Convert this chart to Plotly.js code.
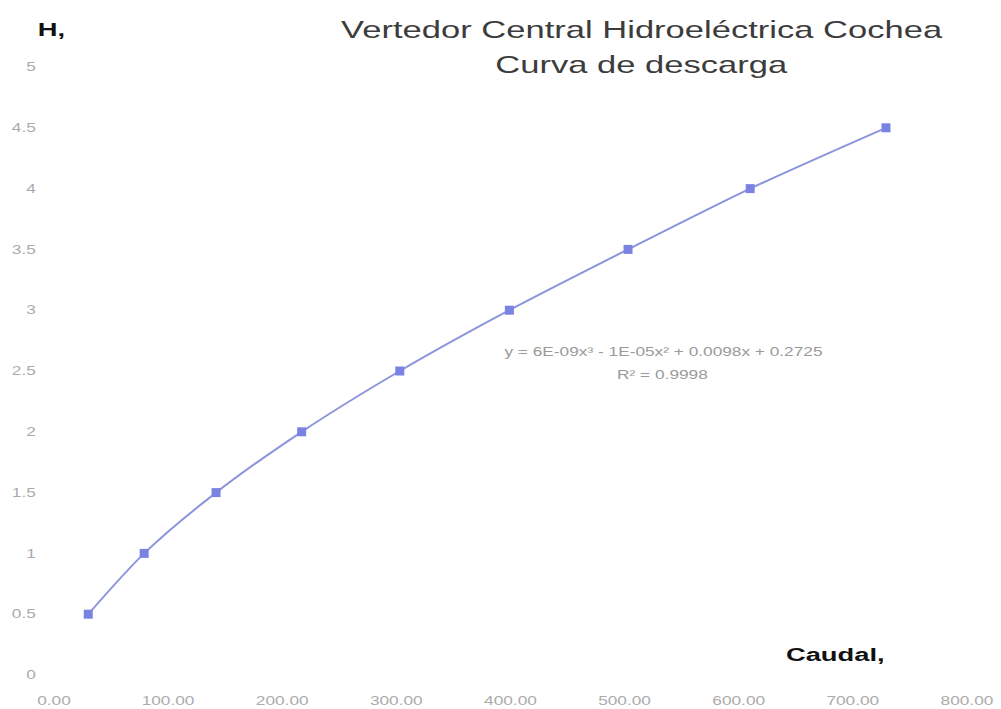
<!DOCTYPE html>
<html>
<head>
<meta charset="utf-8">
<script src="https://cdn.plot.ly/plotly-3.0.1.min.js"></script>
<style>html,body{margin:0;padding:0;background:#fff;}#chart{width:1001px;height:709px;}</style>
</head>
<body>
<div id="chart"></div>
<script>
const caudal = [30, 79, 142, 217, 303, 399, 503, 610, 729];
const altura = [0.5, 1.0, 1.5, 2.0, 2.5, 3.0, 3.5, 4.0, 4.5];
const xTickVals = [0, 100, 200, 300, 400, 500, 600, 700, 800];
const xTickText = ["0.00", "100.00", "200.00", "300.00", "400.00", "500.00", "600.00", "700.00", "800.00"];
const yTickVals = [0, 0.5, 1, 1.5, 2, 2.5, 3, 3.5, 4, 4.5, 5];
const yTickText = ["0", "0.5", "1", "1.5", "2", "2.5", "3", "3.5", "4", "4.5", "5"];
const titleLines = ["Vertedor Central Hidroeléctrica Cochea", "Curva de descarga"];
const equationText = "y = 6E-09x³ - 1E-05x² + 0.0098x + 0.2725";
const r2Text = "R² = 0.9998";

const trace = {
  x: caudal, y: altura, type: 'scatter', mode: 'lines+markers',
  line: {color: '#8c95dc', width: 2, shape: 'spline', smoothing: 0.8},
  marker: {color: '#7a82e2', size: 9, symbol: 'square'},
  hoverinfo: 'x+y'
};

const FONT = 'Liberation Sans, Arial, sans-serif';
const tickFont = {family: FONT, size: 12, color: '#ababab'};

const layout = {
  width: 1001, height: 709,
  paper_bgcolor: '#ffffff', plot_bgcolor: '#ffffff',
  margin: {l: 54, r: 34, t: 67, b: 34},
  showlegend: false,
  xaxis: {
    range: [0, 800], tickvals: xTickVals, ticktext: xTickText,
    showgrid: false, zeroline: false, showline: false, ticks: '',
    tickfont: tickFont, ticklabelstandoff: 17
  },
  yaxis: {
    range: [0, 5], tickvals: yTickVals, ticktext: yTickText,
    showgrid: false, zeroline: false, showline: false, ticks: '',
    tickfont: tickFont, ticklabelstandoff: 17
  },
  annotations: [
    {text: titleLines[0], xref: 'paper', yref: 'paper', x: 0.644, y: 1.0609, xanchor: 'center', yanchor: 'middle',
     showarrow: false, font: {family: FONT, size: 24, color: '#3c3c3c'}},
    {text: titleLines[1], xref: 'paper', yref: 'paper', x: 0.644, y: 1.0033, xanchor: 'center', yanchor: 'middle',
     showarrow: false, font: {family: FONT, size: 24, color: '#3c3c3c'}},
    {text: '<b>H,</b>', xref: 'paper', yref: 'paper', x: -0.0153, y: 1.0609, xanchor: 'left', yanchor: 'middle',
     showarrow: false, font: {family: FONT, size: 19, color: '#111'}},
    {text: '<b>Caudal,</b>', xref: 'x', yref: 'y', x: 684.5, y: 0.165, xanchor: 'center', yanchor: 'middle',
     showarrow: false, font: {family: FONT, size: 19, color: '#111'}},
    {text: equationText, xref: 'x', yref: 'y', x: 533.7, y: 2.656, xanchor: 'center', yanchor: 'middle',
     showarrow: false, font: {family: FONT, size: 12, color: '#9a9a9a'}},
    {text: r2Text, xref: 'x', yref: 'y', x: 533, y: 2.467, xanchor: 'center', yanchor: 'middle',
     showarrow: false, font: {family: FONT, size: 12, color: '#9a9a9a'}}
  ]
};

// The reference picture is horizontally stretched; widen text glyphs to match.
function stretchTexts(gd, s) {
  const texts = gd.querySelectorAll('svg text');
  texts.forEach(t => {
    if (!t.textContent || !t.textContent.trim()) return;
    let bb;
    try { bb = t.getBBox(); } catch (e) { return; }
    const anchor = t.getAttribute('text-anchor') || 'start';
    let cx;
    if (anchor === 'end') cx = bb.x + bb.width;
    else if (anchor === 'middle') cx = bb.x + bb.width / 2;
    else cx = bb.x;
    const prev = t.getAttribute('transform') || '';
    t.setAttribute('transform', prev + ' translate(' + cx + ',0) scale(' + s + ',1) translate(' + (-cx) + ',0)');
  });
}

const gd = document.getElementById('chart');
Plotly.newPlot(gd, [trace], layout, {displayModeBar: false, staticPlot: true}).then(() => stretchTexts(gd, 1.44));
</script>
</body>
</html>
